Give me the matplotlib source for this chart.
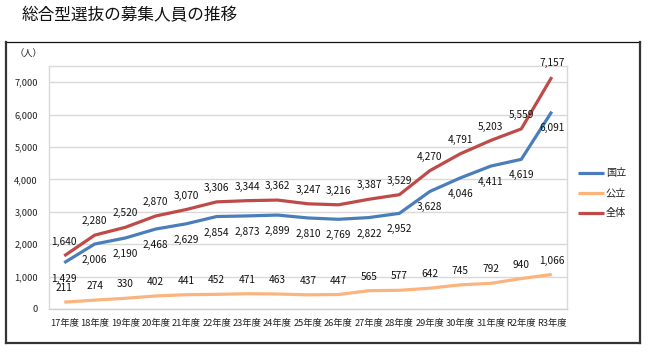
import matplotlib
matplotlib.use("Agg")
import matplotlib.pyplot as plt
from matplotlib.lines import Line2D
from matplotlib.ticker import FuncFormatter

plt.rcParams['font.family'] = ['Noto Sans CJK JP', 'DejaVu Sans']

categories = ["17年度", "18年度", "19年度", "20年度", "21年度", "22年度", "23年度", "24年度",
              "25年度", "26年度", "27年度", "28年度", "29年度", "30年度", "31年度", "R2年度", "R3年度"]
kokuritsu = [1429, 2006, 2190, 2468, 2629, 2854, 2873, 2899, 2810, 2769, 2822, 2952, 3628, 4046, 4411, 4619, 6091]
koritsu = [211, 274, 330, 402, 441, 452, 471, 463, 437, 447, 565, 577, 642, 745, 792, 940, 1066]
zentai = [1640, 2280, 2520, 2870, 3070, 3306, 3344, 3362, 3247, 3216, 3387, 3529, 4270, 4791, 5203, 5559, 7157]
series_names = ["国立", "公立", "全体"]
yticks = [0, 1000, 2000, 3000, 4000, 5000, 6000, 7000]

W, H = 650, 355
fig = plt.figure(figsize=(W / 100, H / 100), dpi=100)
fig.patch.set_facecolor("white")

def fx(px):
    return px / W

def fy(py):
    return 1 - py / H

ax = fig.add_axes([fx(49), fy(309), fx(567) - fx(49), fy(66) - fy(309)])

x = [i + 0.5 for i in range(len(categories))]
c_koku = "#4A7EBB"
c_ko = "#FCB47E"
c_zen = "#BE4B48"
lw = 2.3

ax.plot(x, kokuritsu, color=c_koku, lw=lw, solid_capstyle="butt", zorder=3)
ax.plot(x, koritsu, color=c_ko, lw=lw, solid_capstyle="butt", zorder=3)
ax.plot(x, zentai, color=c_zen, lw=lw, solid_capstyle="butt", zorder=3)

lab_fs = 7.3
for xi, v in zip(x, zentai):
    ax.annotate(f"{v:,}", (xi, v), xytext=(0, 10), textcoords="offset points",
                ha="center", va="center", fontsize=lab_fs, color="#111111", zorder=5)
for xi, v in zip(x, kokuritsu):
    ax.annotate(f"{v:,}", (xi, v), xytext=(0, -11.5), textcoords="offset points",
                ha="center", va="center", fontsize=lab_fs, color="#111111", zorder=5)
for xi, v in zip(x, koritsu):
    ax.annotate(f"{v:,}", (xi, v), xytext=(0, 10), textcoords="offset points",
                ha="center", va="center", fontsize=lab_fs, color="#111111", zorder=5)

ax.set_xlim(0, len(categories))
ax.set_ylim(0, 7500)
ax.set_yticks(yticks)
ax.yaxis.set_major_formatter(FuncFormatter(lambda v, p: f"{int(v):,}"))
ax.set_xticks(x)
ax.set_xticklabels(categories)
ax.tick_params(axis="both", length=0, labelsize=6.7, colors="#222222")
ax.tick_params(axis="x", pad=7)
ax.tick_params(axis="y", pad=8)
ax.grid(axis="y", color="#D9D9D9", lw=1.0, zorder=0)
ax.set_axisbelow(True)
for s in ["left", "top", "right"]:
    ax.spines[s].set_color("#D9D9D9")
    ax.spines[s].set_linewidth(1.0)
ax.spines["bottom"].set_color("#D0D0D0")
ax.spines["bottom"].set_linewidth(1.0)

# y-axis unit
fig.text(fx(28), fy(54), "（人）", fontsize=6.7, ha="center", va="center", color="#222222")

# title
fig.text(fx(22), fy(16), "総合型選抜の募集人員の推移", fontsize=12, ha="left", va="center", color="#111111")

# legend
leg_y = [173, 193, 213]
for name, col, py in zip(series_names, [c_koku, c_ko, c_zen], leg_y):
    fig.add_artist(Line2D([fx(578), fx(604)], [fy(py), fy(py)], color=col, lw=lw,
                          solid_capstyle="butt", transform=fig.transFigure))
    fig.text(fx(606), fy(py), name, fontsize=7.3, ha="left", va="center", color="#222222")

# outer frame
fig.add_artist(Line2D([fx(5), fx(640)], [fy(42), fy(42)], color="#111111", lw=0.9, transform=fig.transFigure))
fig.add_artist(Line2D([fx(6), fx(6)], [fy(42), fy(343)], color="#333333", lw=1.6, transform=fig.transFigure))
fig.add_artist(Line2D([fx(640), fx(640)], [fy(42), fy(343)], color="#333333", lw=1.6, transform=fig.transFigure))
fig.add_artist(Line2D([fx(6), fx(640)], [fy(343), fy(343)], color="#333333", lw=1.6, transform=fig.transFigure))

fig.savefig("out.png", dpi=100, facecolor="white")
